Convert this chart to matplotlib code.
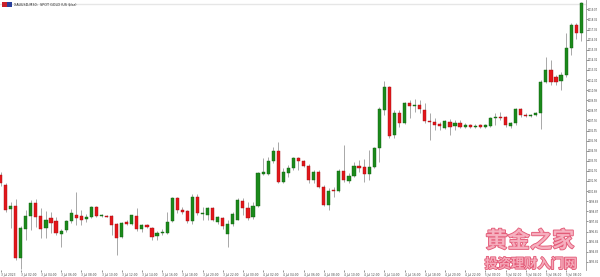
import numpy as np
import matplotlib.pyplot as plt
import matplotlib.patheffects as pe
from matplotlib.patches import Rectangle

# 30-minute gold candles, left to right
opens = [
    2002.5, 2001.5, 1999.1, 1999.4, 1994.2, 1997.1, 1998.4, 1999.7, 1998.4, 1997.2,
    1998.2, 1997.9, 1996.6, 1997.0, 1997.9, 1998.5, 1998.4, 1998.1, 1998.3, 1999.3,
    1998.4, 1998.4, 1998.4, 1997.6, 1996.3, 1997.8, 1997.6, 1998.4, 1997.1, 1997.5,
    1997.2, 1996.4, 1996.7, 1996.7, 1997.9, 2000.2, 1999.0, 1998.9, 1997.9, 2000.3,
    1998.6, 1998.5, 1999.2, 1997.8, 1998.2, 1996.6, 1997.6, 1998.0, 1999.9, 1999.2,
    1998.3, 1999.4, 2002.6, 2002.6, 2003.9, 2004.9, 2001.8, 2002.7, 2003.2, 2004.2,
    2003.9, 2003.4, 2002.0, 2002.8, 2001.3, 1999.5, 2001.0, 2000.9, 2002.9, 2001.9,
    2002.4, 2003.4, 2003.3, 2002.6, 2003.3, 2005.2, 2009.0, 2011.3, 2006.5, 2008.7,
    2007.7, 2009.7, 2009.4, 2009.5, 2009.0, 2007.9, 2007.8, 2007.6, 2007.2, 2007.8,
    2007.4, 2007.7, 2007.3, 2007.5, 2007.3, 2007.5, 2007.3, 2007.4, 2008.2, 2008.3,
    2008.3, 2007.4, 2007.7, 2009.1, 2008.5, 2008.4, 2008.5, 2008.7, 2011.8, 2013.0,
    2012.3, 2011.9, 2012.5, 2015.2, 2017.5, 2016.7]
closes = [
    2001.7, 1999.0, 1999.4, 1994.2, 1997.2, 1998.4, 1999.7, 1998.3, 1997.1, 1998.0,
    1997.7, 1996.7, 1996.9, 1997.9, 1998.7, 1998.2, 1998.0, 1998.3, 1999.3, 1998.4,
    1998.5, 1998.3, 1997.5, 1996.2, 1997.7, 1997.6, 1998.5, 1997.1, 1997.5, 1997.3,
    1996.3, 1996.7, 1996.8, 1997.8, 2000.2, 1999.0, 1998.8, 1997.9, 2000.3, 1998.7,
    1998.7, 1999.2, 1998.0, 1998.3, 1997.4, 1997.6, 1998.6, 2000.0, 1999.2, 1998.2,
    1999.4, 2002.7, 2002.8, 2003.9, 2004.9, 2001.8, 2002.8, 2003.2, 2004.2, 2003.9,
    2003.4, 2002.0, 2002.8, 2001.3, 1999.5, 2000.9, 2000.9, 2002.9, 2002.0, 2002.4,
    2003.4, 2003.2, 2002.6, 2003.3, 2005.2, 2009.1, 2011.3, 2006.4, 2008.7, 2007.7,
    2009.7, 2009.4, 2009.5, 2009.1, 2007.9, 2007.8, 2007.5, 2007.4, 2007.9, 2007.3,
    2007.7, 2007.3, 2007.5, 2007.3, 2007.4, 2007.3, 2007.5, 2008.2, 2008.3, 2008.2,
    2007.5, 2007.7, 2009.1, 2008.5, 2008.4, 2008.5, 2008.7, 2011.8, 2013.0, 2011.8,
    2011.8, 2012.5, 2015.2, 2017.5, 2016.7, 2019.7]
highs = [
    2002.8, 2001.7, 1999.8, 2000.1, 1997.4, 1999.0, 2000.0, 2000.1, 1999.2, 1998.9,
    1998.8, 1998.3, 1997.1, 1998.0, 1999.1, 2000.8, 1999.0, 1998.6, 1999.4, 1999.4,
    1998.6, 1998.5, 1998.5, 1997.7, 1997.8, 1998.0, 1998.5, 1999.2, 1997.6, 1997.6,
    1997.3, 1996.9, 1997.1, 1998.8, 2000.3, 2000.3, 1999.3, 1999.0, 2000.6, 2000.6,
    1999.3, 1999.3, 1999.3, 1998.4, 1998.3, 1998.0, 1998.8, 2000.2, 2000.2, 1999.8,
    1999.8, 2002.8, 2004.2, 2004.3, 2005.3, 2005.8, 2003.2, 2003.5, 2004.3, 2004.3,
    2004.0, 2003.6, 2003.0, 2003.0, 2001.5, 2001.2, 2001.3, 2003.1, 2005.5, 2002.7,
    2003.8, 2004.0, 2004.1, 2005.0, 2005.3, 2009.3, 2011.9, 2011.4, 2009.0, 2009.0,
    2009.8, 2010.0, 2010.1, 2010.0, 2009.7, 2008.7, 2008.2, 2007.8, 2008.0, 2008.1,
    2008.0, 2008.0, 2007.7, 2007.6, 2007.6, 2007.6, 2007.6, 2008.3, 2008.7, 2008.8,
    2008.4, 2007.8, 2009.2, 2009.2, 2008.7, 2008.6, 2008.8, 2012.0, 2014.3, 2014.0,
    2012.5, 2012.8, 2016.7, 2017.7, 2017.7, 2019.8]
lows = [
    2001.4, 1998.8, 1997.2, 1994.0, 1993.1, 1996.0, 1997.0, 1997.3, 1996.2, 1996.2,
    1996.7, 1996.5, 1995.3, 1996.8, 1997.7, 1997.5, 1997.5, 1997.8, 1998.2, 1998.3,
    1998.3, 1998.3, 1996.5, 1994.5, 1996.2, 1997.5, 1997.5, 1996.9, 1996.8, 1997.2,
    1996.0, 1996.0, 1996.5, 1996.6, 1997.8, 1998.7, 1998.6, 1997.7, 1997.6, 1998.5,
    1998.0, 1998.0, 1997.9, 1997.6, 1997.1, 1995.3, 1997.4, 1998.0, 1998.5, 1998.0,
    1998.1, 1999.3, 2002.5, 2002.5, 2003.7, 2001.7, 2001.7, 2002.3, 2003.0, 2003.0,
    2003.3, 2001.7, 2001.7, 2001.2, 1999.4, 1999.0, 2000.3, 2000.8, 2001.8, 2001.7,
    2002.3, 2002.8, 2001.8, 2002.0, 2003.2, 2003.8, 2008.5, 2006.2, 2006.2, 2007.3,
    2007.6, 2008.2, 2008.8, 2008.7, 2007.7, 2006.0, 2007.0, 2007.0, 2007.1, 2006.5,
    2007.0, 2007.2, 2007.2, 2007.2, 2007.2, 2007.2, 2007.2, 2007.3, 2007.5, 2008.0,
    2007.3, 2007.2, 2007.5, 2008.3, 2008.3, 2008.3, 2008.4, 2007.1, 2011.7, 2011.5,
    2011.5, 2011.0, 2012.3, 2014.5, 2016.1, 2015.9]

time_labels = [
    "3 Jul 2023", "3 Jul 02:00", "3 Jul 04:00", "3 Jul 06:00", "3 Jul 08:00",
    "3 Jul 10:00", "3 Jul 12:00", "3 Jul 14:00", "3 Jul 16:00", "3 Jul 18:00",
    "3 Jul 20:00", "3 Jul 22:00", "4 Jul 00:00", "4 Jul 02:00", "4 Jul 04:00",
    "4 Jul 06:00", "4 Jul 08:00", "4 Jul 10:00", "4 Jul 12:00", "4 Jul 14:00",
    "4 Jul 16:00", "4 Jul 18:00", "4 Jul 20:00", "4 Jul 22:00", "5 Jul 00:00",
    "5 Jul 02:00", "5 Jul 04:00", "5 Jul 06:00", "5 Jul 08:00"]
price_ticks = np.round(2019.07 - 1.01 * np.arange(26), 2)

title = "XAUUSD,M30:  SPOT GOLD (US $/oz)"

BULL = "#1b8a1b"
BEAR = "#e3161b"
WICK = "#9a9a9a"

fig = plt.figure(figsize=(6.0, 2.77), dpi=100)
ax = fig.add_axes([0.0, 7 / 277, 586 / 600, 270 / 277])

x = np.arange(len(opens))
o = np.array(opens)
c = np.array(closes)
bull = c >= o
colors = np.where(bull, BULL, BEAR)
edges = np.where(bull, "#0d5e0d", "#a30d10")

ax.vlines(x, lows, highs, color=WICK, linewidth=0.6, zorder=1)
bottoms = np.minimum(o, c)
heights = np.maximum(np.abs(c - o), 0.08)
ax.bar(x, heights, bottom=bottoms, width=0.62, color=colors,
       edgecolor=edges, linewidth=0.3, zorder=2)

ax.set_xlim(-0.1, 115.94)
ax.set_ylim(1993.0, 2020.0)

# thin grey strip at the very top of the window
ax.axhline(2019.65, color="#e6e6e6", linewidth=1.0, zorder=0)

ax.yaxis.tick_right()
ax.set_yticks(price_ticks)
ax.set_yticklabels(["%.2f" % v for v in price_ticks])
ax.tick_params(axis="y", labelsize=1.8, length=1.2, width=0.4, pad=0.4,
               colors="#444444")
ax.set_xticks(x[::4])
ax.set_xticklabels(time_labels, ha="left")
ax.tick_params(axis="x", labelsize=2.1, length=1.5, width=0.4, pad=0.5,
               colors="#444444")

for side in ["top", "left", "bottom"]:
    ax.spines[side].set_visible(False)
ax.spines["right"].set_color("#9a9a9a")
ax.spines["right"].set_linewidth(0.6)

# symbol icon + title
fig.patches.append(Rectangle((0.003, 0.975), 0.009, 0.017, transform=fig.transFigure,
                             facecolor="#c8202a", edgecolor="none"))
fig.patches.append(Rectangle((0.012, 0.975), 0.008, 0.017, transform=fig.transFigure,
                             facecolor="#2a3f9a", edgecolor="none"))
fig.text(0.024, 0.984, title, fontsize=2.4, va="center", ha="left", color="#222222")

# watermark
wm = [pe.withStroke(linewidth=1.2, foreground="#e04868")]
fig.text(530 / 600, 1 - 241 / 277, "黄金之家", fontsize=16, fontweight="bold",
         family=["Noto Sans CJK SC", "DejaVu Sans"], color="#f7b3c2",
         ha="center", va="center", path_effects=wm, alpha=0.9)
fig.text(531 / 600, 1 - 264 / 277, "投资理财入门网", fontsize=9.5, fontweight="bold",
         family=["Noto Sans CJK SC", "DejaVu Sans"], color="#f7b3c2",
         ha="center", va="center", path_effects=wm, alpha=0.9)

fig.savefig("out.png", dpi=100, facecolor="white")
